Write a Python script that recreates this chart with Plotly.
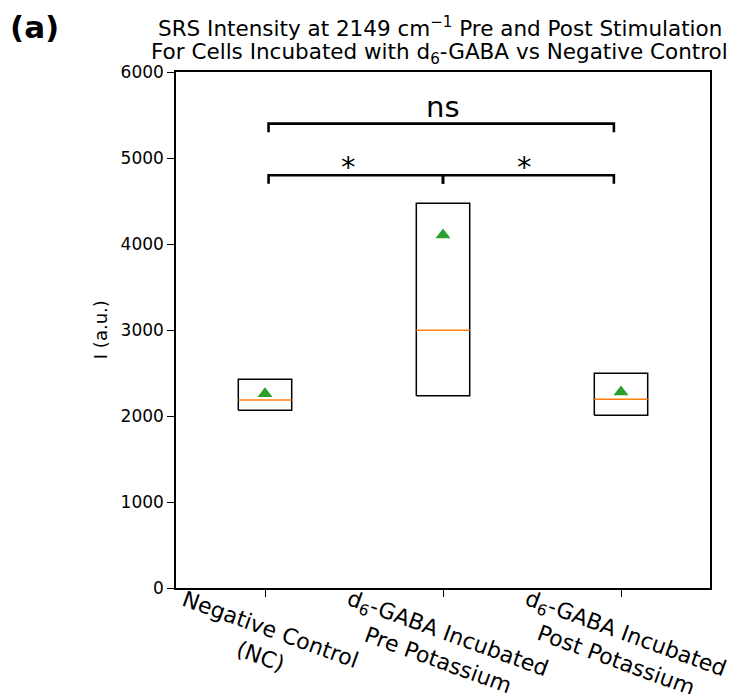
import plotly.graph_objects as go

# ---- data ----
categories = ["Negative Control<br>(NC)",
              "d<sub>6</sub>-GABA Incubated<br>Pre Potassium",
              "d<sub>6</sub>-GABA Incubated<br>Post Potassium"]
positions = [1, 2, 3]
q1 = [2068, 2236, 2010]
q3 = [2427, 4473, 2498]
median = [2186, 2996, 2196]
mean = [2260, 4105, 2278]

# significance brackets: (x_start, x_end, height, label, label_x)
brackets = [
    (1.02, 2.0, 4800, "*", 1.47),
    (2.0, 2.96, 4800, "*", 2.46),
    (1.02, 2.96, 5400, "ns", 2.0),
]
bracket_drop = 100

y_ticks = [0, 1000, 2000, 3000, 4000, 5000, 6000]

title_lines = ["SRS Intensity at 2149 cm<sup>−1</sup> Pre and Post Stimulation",
               "For Cells Incubated with d<sub>6</sub>-GABA vs Negative Control"]

FONT = "DejaVu Sans"
BOX_HALF = 0.15

fig = go.Figure()

for p, a, b, m in zip(positions, q1, q3, median):
    fig.add_trace(go.Scatter(
        x=[p - BOX_HALF, p + BOX_HALF, p + BOX_HALF, p - BOX_HALF, p - BOX_HALF],
        y=[a, a, b, b, a], mode="lines",
        line=dict(color="black", width=1.5), showlegend=False, hoverinfo="skip"))
    fig.add_trace(go.Scatter(
        x=[p - BOX_HALF, p + BOX_HALF], y=[m, m], mode="lines",
        line=dict(color="#ff7f0e", width=1.5), showlegend=False, hoverinfo="skip"))

fig.add_trace(go.Scatter(
    x=positions, y=mean, mode="markers",
    marker=dict(symbol="triangle-up", size=13, color="#2ca02c"),
    showlegend=False))

annotations = []
for x0, x1, h, lab, lx in brackets:
    fig.add_trace(go.Scatter(
        x=[x0, x0, x1, x1], y=[h - bracket_drop, h, h, h - bracket_drop],
        mode="lines", line=dict(color="black", width=2.6),
        showlegend=False, hoverinfo="skip"))
    annotations.append(dict(
        x=lx, y=h, xref="x", yref="y", text=lab, showarrow=False,
        xanchor="center", yanchor="bottom", yshift=(-2 if lab == "ns" else -11),
        font=dict(family=FONT, size=29, color="black")))

for p, lab in zip(positions, categories):
    annotations.append(dict(
        x=p, y=0.0097, xref="x", yref="paper", text=lab, showarrow=False,
        textangle=20, xanchor="center", yanchor="top",
        font=dict(family=FONT, size=22, color="black")))

annotations.append(dict(
    x=-0.142, y=0.5, xref="paper", yref="paper", text="I (a.u.)",
    showarrow=False, textangle=-90, xanchor="center", yanchor="middle",
    font=dict(family=FONT, size=18, color="black")))

annotations.append(dict(
    x=-0.315, y=1.126, xref="paper", yref="paper", text="<b>(a)</b>",
    showarrow=False, xanchor="left", yanchor="top",
    font=dict(family=FONT, size=31, color="black")))

for ty, line in zip([1.0872, 1.0349], title_lines):
    annotations.append(dict(
        x=0.494, y=ty, xref="paper", yref="paper", text=line, showarrow=False,
        xanchor="center", yanchor="middle",
        font=dict(family=FONT, size=21.5, color="black")))

fig.update_layout(
    width=729, height=686,
    margin=dict(l=168, r=27, t=64, b=106),
    paper_bgcolor="white", plot_bgcolor="white",
    font=dict(family=FONT, size=17, color="black"),
    annotations=annotations,
    xaxis=dict(range=[0.5, 3.5], tickvals=positions, showticklabels=False,
               ticks="outside", ticklen=7, tickwidth=1.3, tickcolor="black",
               showline=True, linecolor="black", linewidth=1.5, mirror=True,
               showgrid=False, zeroline=False),
    yaxis=dict(range=[0, 6000], tickvals=y_ticks,
               ticks="outside", ticklen=7, tickwidth=1.3, tickcolor="black",
               showline=True, linecolor="black", linewidth=1.5, mirror=True,
               showgrid=False, zeroline=False,
               tickfont=dict(family=FONT, size=17, color="black")),
)

fig.write_html("out.html")
